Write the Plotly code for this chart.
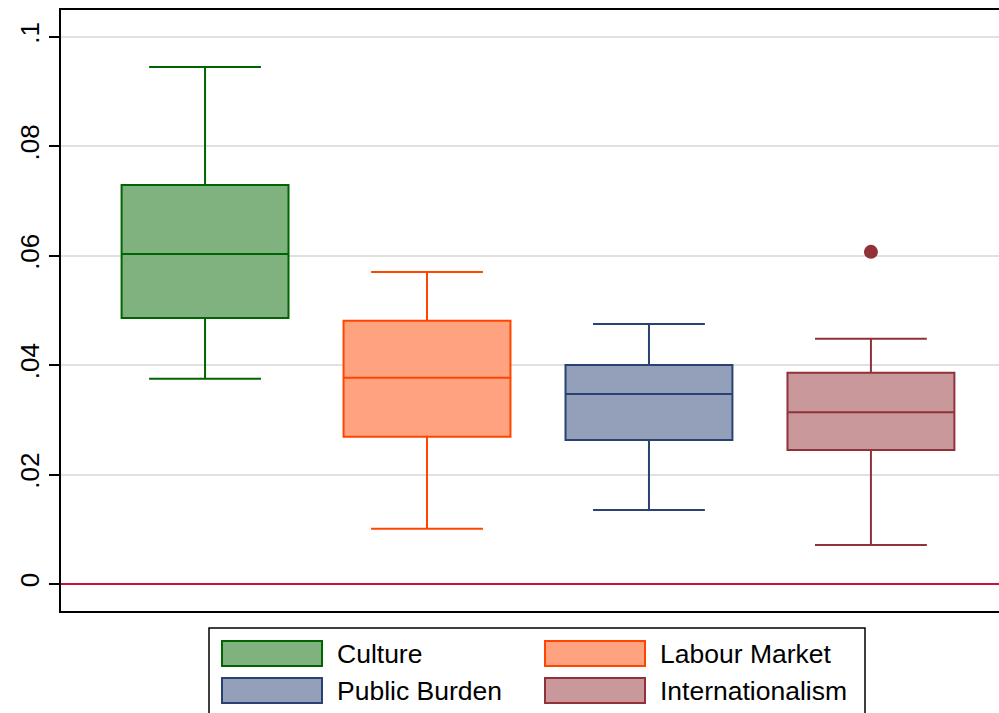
import plotly.graph_objects as go

# Box-plot summary statistics per dimension
categories = ["Culture", "Labour Market", "Public Burden", "Internationalism"]
lower_whisker = [0.0375, 0.0101, 0.0135, 0.0071]
q1 = [0.0486, 0.0269, 0.0263, 0.0245]
median = [0.0603, 0.0377, 0.0347, 0.0314]
q3 = [0.0729, 0.0481, 0.0400, 0.0386]
upper_whisker = [0.0945, 0.0570, 0.0475, 0.0448]
outliers = [[], [], [], [0.0607]]

y_tick_vals = [0, 0.02, 0.04, 0.06, 0.08, 0.1]
y_tick_text = ["0", ".02", ".04", ".06", ".08", ".1"]

line_colors = ["#006400", "#ff4500", "#2a4273", "#913238"]
fill_colors = ["#80b27f", "#ffa27f", "#94a0b9", "#c8989b"]

FONT = "Liberation Sans, Arial, Helvetica, sans-serif"
W, H = 999, 713
L, T, B = 61, 10, 102
PW, PH = W - L, H - T - B


def px_x(px):
    return (px - L) / PW


def px_y(py):
    return (H - B - py) / PH


fig = go.Figure()

for i, name in enumerate(categories):
    fig.add_trace(go.Box(
        x=[i], q1=[q1[i]], median=[median[i]], q3=[q3[i]],
        lowerfence=[lower_whisker[i]], upperfence=[upper_whisker[i]],
        name=name, boxpoints=False, width=0.752, whiskerwidth=0.67,
        line=dict(color=line_colors[i], width=2),
        fillcolor=fill_colors[i], showlegend=False, hoverinfo="y",
    ))
    if outliers[i]:
        fig.add_trace(go.Scatter(
            x=[i] * len(outliers[i]), y=outliers[i], mode="markers",
            marker=dict(color=line_colors[i], size=14, line=dict(width=0)),
            showlegend=False, hoverinfo="y",
        ))

# Legend drawn as a framed two-column key
shapes = [dict(type="rect", xref="paper", yref="paper",
               x0=px_x(209), x1=px_x(865), y0=px_y(720), y1=px_y(628),
               line=dict(color="black", width=1.5), fillcolor="white", layer="above")]
annotations = []
col_x = [222, 545]
row_y = [641, 678]
for i, name in enumerate(categories):
    cx = col_x[i % 2]
    ry = row_y[i // 2]
    shapes.append(dict(type="rect", xref="paper", yref="paper",
                       x0=px_x(cx), x1=px_x(cx + 100), y0=px_y(ry + 25), y1=px_y(ry),
                       line=dict(color=line_colors[i], width=2),
                       fillcolor=fill_colors[i], layer="above"))
    annotations.append(dict(text=name, xref="paper", yref="paper",
                            x=px_x(cx + 113), y=px_y(ry + 13), xanchor="left",
                            yanchor="middle", showarrow=False,
                            font=dict(family=FONT, size=26.5, color="black")))

fig.update_layout(
    width=W, height=H,
    margin=dict(l=L, r=0, t=T, b=B),
    paper_bgcolor="white", plot_bgcolor="white",
    boxmode="overlay",
    font=dict(family=FONT, size=26, color="black"),
    shapes=shapes, annotations=annotations,
    showlegend=False,
)
fig.update_xaxes(
    range=[-0.649, 3.577], showticklabels=False, ticks="", showgrid=False,
    zeroline=False, showline=True, linecolor="black", linewidth=1.5, mirror=True,
)
fig.update_yaxes(
    range=[-0.00494, 0.1049], tickvals=y_tick_vals, ticktext=y_tick_text,
    tickangle=-90, ticks="outside", ticklen=10, tickwidth=1.5, tickcolor="black",
    showgrid=True, gridcolor="#e1e1e1", gridwidth=2,
    zeroline=True, zerolinecolor="#c8103e", zerolinewidth=2,
    showline=True, linecolor="black", linewidth=1.5, mirror=False,
    tickfont=dict(family=FONT, size=26, color="black"),
)

fig.write_html("out.html")
